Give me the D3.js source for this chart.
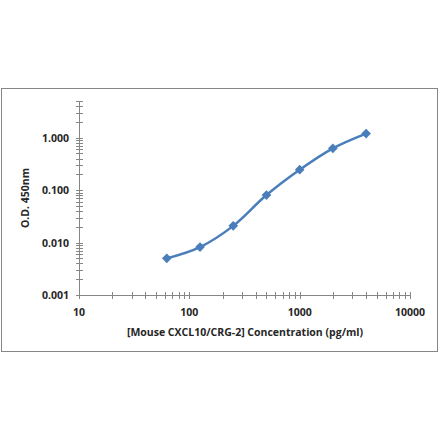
<!DOCTYPE html>
<html>
<head>
<meta charset="utf-8">
<script src="https://cdn.jsdelivr.net/npm/d3@7"></script>
<style>
  body { margin: 0; background: #fff; }
  svg { display: block; }
  text { font-family: "Open Sans", "DejaVu Sans", sans-serif; fill: #262626; }
</style>
</head>
<body>
<svg id="chart" width="440" height="441"></svg>
<script>
// concentration (pg/ml) and O.D. readings
const concentration = [62.5, 125, 250, 500, 1000, 2000, 4000];
const od450 = [0.0050, 0.0082, 0.0208, 0.0805, 0.245, 0.627, 1.197];
const xTicks = [10, 100, 1000, 10000];
const yTicks = [0.001, 0.01, 0.1, 1];

const svg = d3.select('#chart');

// outer frame
svg.append('rect')
    .attr('x', 1.5).attr('y', 88.5)
    .attr('width', 436).attr('height', 263)
    .attr('fill', 'none').attr('stroke', '#868686').attr('stroke-width', 1);

const x = d3.scaleLog().domain([10, 10000]).range([79, 410]);
const y = d3.scaleLog().domain([0.001, 5]).range([295, 101]);

// minor ticks, every 1..9 of each decade
let xMinor = [];
for (let p = 10; p < 10000; p *= 10) {
    for (let k = 1; k <= 10; k++) xMinor.push(p * k);
}
let yMinor = [];
for (let p = 0.001; p < 5; p *= 10) {
    for (let k = 1; k <= 9; k++) if (p * k <= 5.0001) yMinor.push(p * k);
}

const axisColor = '#868686';

const xAxis = svg.append('g');
xAxis.append('line')
    .attr('x1', x(10)).attr('x2', x(10000))
    .attr('y1', 295.5).attr('y2', 295.5)
    .attr('stroke', axisColor);
xAxis.selectAll('line.tick')
    .data(xMinor)
    .join('line')
    .attr('class', 'tick')
    .attr('x1', d => Math.round(x(d)) + 0.5).attr('x2', d => Math.round(x(d)) + 0.5)
    .attr('y1', 292).attr('y2', 299)
    .attr('stroke', axisColor);
xAxis.selectAll('text')
    .data(xTicks)
    .join('text')
    .attr('x', d => x(d)).attr('y', 316)
    .attr('text-anchor', 'middle')
    .attr('font-size', 10.5).attr('font-weight', 'bold')
    .text(d => d);

const yAxis = svg.append('g');
yAxis.append('line')
    .attr('x1', 79.5).attr('x2', 79.5)
    .attr('y1', y(5)).attr('y2', y(0.001))
    .attr('stroke', axisColor);
yAxis.selectAll('line.tick')
    .data(yMinor)
    .join('line')
    .attr('class', 'tick')
    .attr('x1', 76).attr('x2', 83)
    .attr('y1', d => Math.round(y(d)) + 0.5).attr('y2', d => Math.round(y(d)) + 0.5)
    .attr('stroke', axisColor);
yAxis.selectAll('text')
    .data(yTicks)
    .join('text')
    .attr('x', 69).attr('y', d => y(d) + 4)
    .attr('text-anchor', 'end')
    .attr('font-size', 10.5).attr('font-weight', 'bold')
    .text(d => d3.format('.3f')(d));

// axis titles
svg.append('text')
    .attr('transform', 'translate(29,198) rotate(-90)')
    .attr('text-anchor', 'middle')
    .attr('font-size', 10.5).attr('font-weight', 'bold')
    .text('O.D. 450nm');
svg.append('text')
    .attr('x', 245).attr('y', 336)
    .attr('text-anchor', 'middle')
    .attr('font-size', 10.5).attr('font-weight', 'bold')
    .text('[Mouse CXCL10/CRG-2] Concentration (pg/ml)');

// curve
const pts = concentration.map((c, i) => [c, od450[i]]);
const line = d3.line()
    .x(d => x(d[0])).y(d => y(d[1]))
    .curve(d3.curveCatmullRom.alpha(0.5));
svg.append('path')
    .attr('d', line(pts))
    .attr('fill', 'none')
    .attr('stroke', '#4a7ebb')
    .attr('stroke-width', 2.5);

const diamond = d3.symbol().type(d3.symbolDiamond2).size(60);
svg.selectAll('path.pt')
    .data(pts)
    .join('path')
    .attr('class', 'pt')
    .attr('transform', d => `translate(${x(d[0])},${y(d[1])})`)
    .attr('d', diamond)
    .attr('fill', '#4a7ebb');
</script>
</body>
</html>
